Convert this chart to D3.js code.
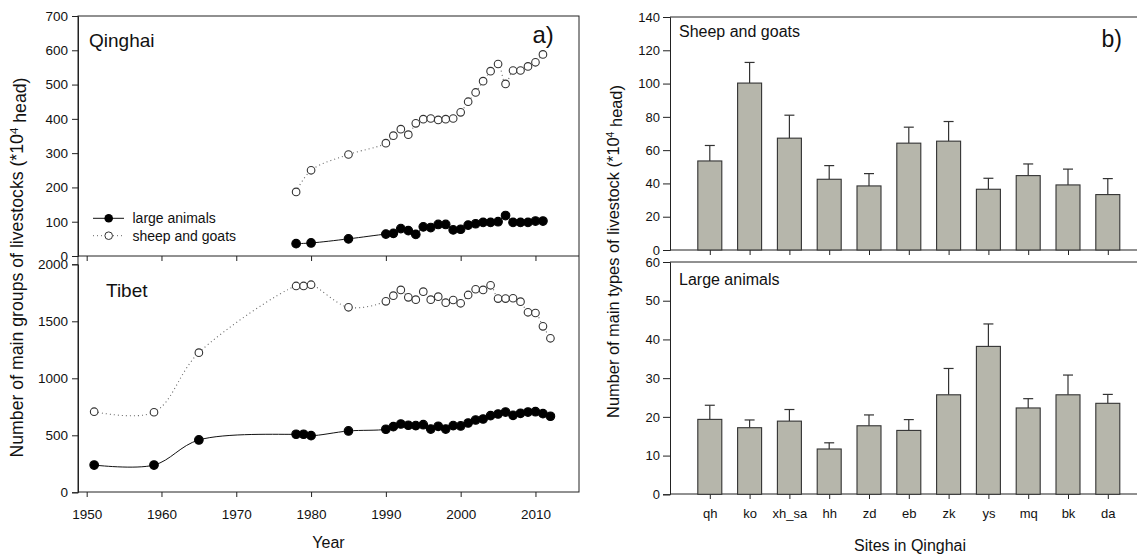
<!DOCTYPE html>
<html><head><meta charset="utf-8">
<script src="https://cdn.jsdelivr.net/npm/d3@7"></script>
<style>
html,body{margin:0;padding:0;background:#fff;}
text{font-family:"Liberation Sans",Arial,sans-serif;fill:#111;}
</style></head>
<body>
<svg id="chart" width="1137" height="554"></svg>
<script>
// ---------- DATA ----------
const qhYears = [1978,1980,1985,1990,1991,1992,1993,1994,1995,1996,1997,1998,1999,2000,2001,2002,2003,2004,2005,2006,2007,2008,2009,2010,2011];
const qhLarge = [36,38,50,64,66,80,74,63,85,83,92,92,76,78,90,94,98,98,100,118,98,98,98,102,102];
const qhSheep = [187,250,296,329,351,370,354,387,399,401,397,399,401,419,450,477,510,539,560,502,541,541,553,565,588];
const tbYears = [1951,1959,1965,1978,1979,1980,1985,1990,1991,1992,1993,1994,1995,1996,1997,1998,1999,2000,2001,2002,2003,2004,2005,2006,2007,2008,2009,2010,2011,2012];
const tbLarge = [239,239,459,509,509,497,538,553,576,599,588,585,593,555,579,555,585,582,608,634,643,672,687,704,675,693,704,707,690,667];
const tbSheep = [707,702,1225,1810,1810,1821,1623,1675,1725,1775,1710,1690,1760,1690,1716,1663,1687,1658,1731,1781,1775,1816,1699,1699,1702,1672,1579,1573,1456,1351];
const yearTicks = [1950,1960,1970,1980,1990,2000,2010];
const qhTicks = [0,100,200,300,400,500,600,700];
const tbTicks = [0,500,1000,1500,2000];

const sites = ["qh","ko","xh_sa","hh","zd","eb","zk","ys","mq","bk","da"];
const sheepMean = [53.5,100.3,67.2,42.5,38.5,64.2,65.4,36.5,44.7,39.1,33.3];
const sheepErr  = [62.8,112.7,81.0,50.7,45.9,73.8,77.2,43.1,51.7,48.6,42.9];
const largeMean = [19.35,17.2,18.9,11.7,17.7,16.5,25.7,38.2,22.3,25.7,23.5];
const largeErr  = [23.0,19.2,21.9,13.3,20.5,19.3,32.5,44.0,24.7,30.8,25.8];
const sheepTicks = [0,20,40,60,80,100,120,140];
const largeTicks = [0,10,20,30,40,50,60];

// ---------- SETUP ----------
const svg = d3.select("#chart");
const AX = "#222";
const fmt = d3.format("d");

// ----- Left figure (a) -----
const x = d3.scaleLinear().domain([1948.84, 2015.82]).range([78, 579]);
const yQ = d3.scaleLinear().domain([0,700]).range([256,16]);
const yT = d3.scaleLinear().domain([0,2000]).range([492.3,264.3]);

const gL = svg.append("g");
gL.append("rect").attr("x",78).attr("y",16).attr("width",501).attr("height",476)
  .attr("fill","none").attr("stroke",AX).attr("stroke-width",1);
gL.append("line").attr("x1",78).attr("x2",579).attr("y1",256).attr("y2",256).attr("stroke",AX);

function styleAxis(g, fs){
  g.select(".domain").attr("stroke",AX);
  g.selectAll(".tick line").attr("stroke",AX);
  g.selectAll(".tick text").style("font-size",(fs||"13.5px")).attr("fill","#111");
}
gL.append("g").attr("transform","translate(78,0)")
  .call(d3.axisLeft(yQ).tickValues(qhTicks).tickSize(6).tickPadding(4).tickFormat(fmt)).call(styleAxis);
gL.append("g").attr("transform","translate(78,0)")
  .call(d3.axisLeft(yT).tickValues(tbTicks).tickSize(6).tickPadding(4).tickFormat(fmt)).call(styleAxis);
gL.append("g").attr("transform","translate(0,256)")
  .call(d3.axisBottom(x).tickValues(yearTicks).tickSize(5).tickFormat(""))
  .call(styleAxis).select(".domain").remove();
gL.append("g").attr("transform","translate(0,492)")
  .call(d3.axisBottom(x).tickValues(yearTicks).tickSize(5).tickPadding(12).tickFormat(fmt))
  .call(styleAxis).select(".domain").remove();

function drawSeries(years, vals, yS, filled){
  const pts = years.map((yr,i)=>[x(yr), yS(vals[i])]);
  const line = d3.line().curve(d3.curveCatmullRom.alpha(0.5));
  gL.append("path").attr("d", line(pts)).attr("fill","none")
    .attr("stroke", filled ? "#111" : "#666")
    .attr("stroke-width", filled ? 1 : 1.1)
    .attr("stroke-dasharray", filled ? null : "1,3");
  gL.append("g").selectAll("circle").data(pts).join("circle")
    .attr("cx",d=>d[0]).attr("cy",d=>d[1])
    .attr("r", filled ? 4.3 : 3.8)
    .attr("fill", filled ? "#000" : "#fff")
    .attr("stroke", filled ? "#000" : "#333").attr("stroke-width",1.1);
}
drawSeries(qhYears, qhSheep, yQ, false);
drawSeries(qhYears, qhLarge, yQ, true);
drawSeries(tbYears, tbSheep, yT, false);
drawSeries(tbYears, tbLarge, yT, true);

const lg = gL.append("g");
lg.append("line").attr("x1",93).attr("x2",124).attr("y1",218.3).attr("y2",218.3).attr("stroke","#111");
lg.append("circle").attr("cx",108.7).attr("cy",218.3).attr("r",4.3).attr("fill","#000");
lg.append("text").attr("x",132.5).attr("y",223).style("font-size","14px").text("large animals");
lg.append("line").attr("x1",93).attr("x2",124).attr("y1",235.7).attr("y2",235.7).attr("stroke","#666").attr("stroke-dasharray","1,3");
lg.append("circle").attr("cx",108.7).attr("cy",235.7).attr("r",3.8).attr("fill","#fff").attr("stroke","#333");
lg.append("text").attr("x",132.5).attr("y",240.5).style("font-size","14px").text("sheep and goats");

gL.append("text").attr("x",89).attr("y",47).style("font-size","19px").text("Qinghai");
gL.append("text").attr("x",106).attr("y",297).style("font-size","19px").text("Tibet");
gL.append("text").attr("x",532.5).attr("y",43).style("font-size","24px").text("a)");
gL.append("text").attr("x",328.5).attr("y",548).attr("text-anchor","middle").style("font-size","16px").text("Year");

const yl = gL.append("text").attr("transform","translate(23,267.5) rotate(-90)")
  .attr("text-anchor","middle").style("font-size","17.7px");
yl.append("tspan").text("Number of main groups of livestocks (*10");
yl.append("tspan").attr("dy","-0.45em").style("font-size","11.5px").text("4");
yl.append("tspan").attr("dy","0.45em").text(" head)");

// ----- Right figure (b) -----
const xb = d3.scaleLinear().domain([0,12]).range([670,1147.6]);
const yS = d3.scaleLinear().domain([0,140]).range([250,17]);
const yL = d3.scaleLinear().domain([0,60]).range([494.3,262]);
const gR = svg.append("g");
const BW = 24;

[17,250,262,494].forEach(yy=>{
  gR.append("line").attr("x1",670).attr("x2",1137).attr("y1",yy).attr("y2",yy).attr("stroke",AX);
});
gR.append("g").attr("transform","translate(670,0)")
  .call(d3.axisLeft(yS).tickValues(sheepTicks).tickSize(7).tickPadding(3)).call(styleAxis,"13px");
gR.append("g").attr("transform","translate(670,0)")
  .call(d3.axisLeft(yL).tickValues(largeTicks).tickSize(7).tickPadding(3)).call(styleAxis,"13px");

const idx = sites.map((s,i)=>i+1);
gR.append("g").attr("transform","translate(0,250)")
  .call(d3.axisBottom(xb).tickValues(idx).tickSize(5).tickFormat(""))
  .call(styleAxis).select(".domain").remove();
gR.append("g").attr("transform","translate(0,494)")
  .call(d3.axisBottom(xb).tickValues(idx).tickSize(5).tickPadding(10).tickFormat(i=>sites[i-1]))
  .call(styleAxis,"13px").select(".domain").remove();

function drawBars(means, errs, yScale){
  const g = gR.append("g");
  const data = means.map((m,i)=>({i:i+1, m, e:errs[i]}));
  g.selectAll("line.eb").data(data).join("line").attr("class","eb")
    .attr("x1",d=>xb(d.i)).attr("x2",d=>xb(d.i))
    .attr("y1",d=>yScale(d.m)).attr("y2",d=>yScale(d.e)).attr("stroke","#333").attr("stroke-width",1.2);
  g.selectAll("line.cap").data(data).join("line").attr("class","cap")
    .attr("x1",d=>xb(d.i)-5).attr("x2",d=>xb(d.i)+5)
    .attr("y1",d=>yScale(d.e)).attr("y2",d=>yScale(d.e)).attr("stroke","#333").attr("stroke-width",1.2);
  g.selectAll("rect").data(data).join("rect")
    .attr("x",d=>xb(d.i)-BW/2).attr("width",BW)
    .attr("y",d=>yScale(d.m)).attr("height",d=>yScale(0)-yScale(d.m))
    .attr("fill","#b6b6ab").attr("stroke","#333").attr("stroke-width",1.1);
}
drawBars(sheepMean, sheepErr, yS);
drawBars(largeMean, largeErr, yL);

gR.append("text").attr("x",679).attr("y",37).style("font-size","16px").text("Sheep and goats");
gR.append("text").attr("x",679).attr("y",285).style("font-size","16px").text("Large animals");
gR.append("text").attr("x",1101.5).attr("y",47).style("font-size","23px").text("b)");
gR.append("text").attr("x",910).attr("y",551).attr("text-anchor","middle").style("font-size","16px").text("Sites in Qinghai");

const yr = gR.append("text").attr("transform","translate(619,251.5) rotate(-90)")
  .attr("text-anchor","middle").style("font-size","16.4px");
yr.append("tspan").text("Number of main types of livestock (*10");
yr.append("tspan").attr("dy","-0.45em").style("font-size","10.5px").text("4");
yr.append("tspan").attr("dy","0.45em").text(" head)");
</script>
</body></html>
